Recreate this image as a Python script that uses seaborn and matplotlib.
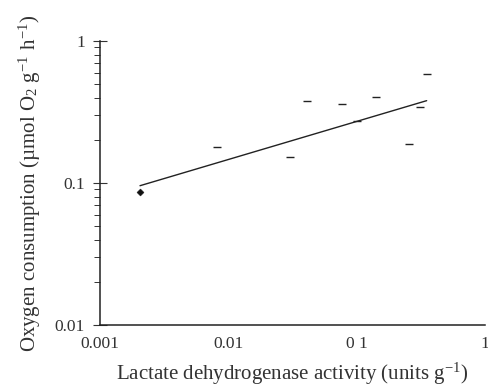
import seaborn as sns
import matplotlib.pyplot as plt
import pandas as pd
from matplotlib.ticker import LogLocator, FixedLocator, NullFormatter

# LDH activity (units g-1) vs oxygen consumption (umol O2 g-1 h-1)
ldh = [0.0081, 0.030, 0.041, 0.077, 0.100, 0.141, 0.256, 0.312, 0.351]
oxygen = [0.178, 0.152, 0.380, 0.358, 0.275, 0.401, 0.188, 0.341, 0.582]
single_ldh = [0.00205]
single_oxygen = [0.087]
fit_ldh = [0.00205, 0.351]
fit_oxygen = [0.0957, 0.380]

sns.set_style("ticks")
plt.rcParams["font.family"] = ["Liberation Serif", "DejaVu Serif"]
plt.rcParams["mathtext.fontset"] = "stix"

fig = plt.figure(figsize=(4.88, 3.88), dpi=100)
ax = fig.add_axes([100 / 488, 63 / 388, 385 / 488, 284 / 388])

df = pd.DataFrame({"LDH": ldh, "O2": oxygen})
sns.scatterplot(data=df, x="LDH", y="O2", marker="_", s=30, color="#222222",
                linewidth=1.0, ax=ax)
sns.scatterplot(x=single_ldh, y=single_oxygen, marker="D", s=13, color="#111111",
                edgecolor="#111111", ax=ax)
sns.lineplot(x=fit_ldh, y=fit_oxygen, color="#222222", linewidth=1.0, ax=ax)

ax.set_xscale("log")
ax.set_yscale("log")
ax.set_xlim(0.001, 1)
ax.set_ylim(0.01, 1)

ax.xaxis.set_major_locator(FixedLocator([0.001, 0.01, 0.1, 1]))
ax.set_xticklabels(["0.001", "0.01", "0 1", "1"])
ax.xaxis.set_minor_locator(FixedLocator([]))
ax.tick_params(axis="x", which="major", length=0, pad=8, labelsize=12.5, colors="#333333")

ax.yaxis.set_major_locator(FixedLocator([0.01, 0.1, 1]))
ax.set_yticklabels(["0.01", "0.1", "1"])
ax.yaxis.set_minor_locator(LogLocator(base=10, subs=range(2, 10)))
ax.yaxis.set_minor_formatter(NullFormatter())
ax.tick_params(axis="y", which="major", direction="inout", length=10, width=0.8,
               labelsize=12.5, pad=6, colors="#333333")
ax.tick_params(axis="y", which="minor", direction="out", length=4, width=0.7,
               color="#333333")

for side in ["top", "right"]:
    ax.spines[side].set_visible(False)
for side in ["left", "bottom"]:
    ax.spines[side].set_linewidth(1.1)
    ax.spines[side].set_color("#222222")

ax.set_xlabel("Lactate dehydrogenase activity (units g$^{\\mathregular{-1}}$)",
              fontsize=15, color="#333333", labelpad=6)
ax.set_ylabel("Oxygen consumption (\u00b5mol O$_{\\mathregular{2}}$ g$^{\\mathregular{-1}}$ h$^{\\mathregular{-1}}$)",
              fontsize=15, color="#333333", labelpad=8)

fig.savefig("out.png", dpi=100)
